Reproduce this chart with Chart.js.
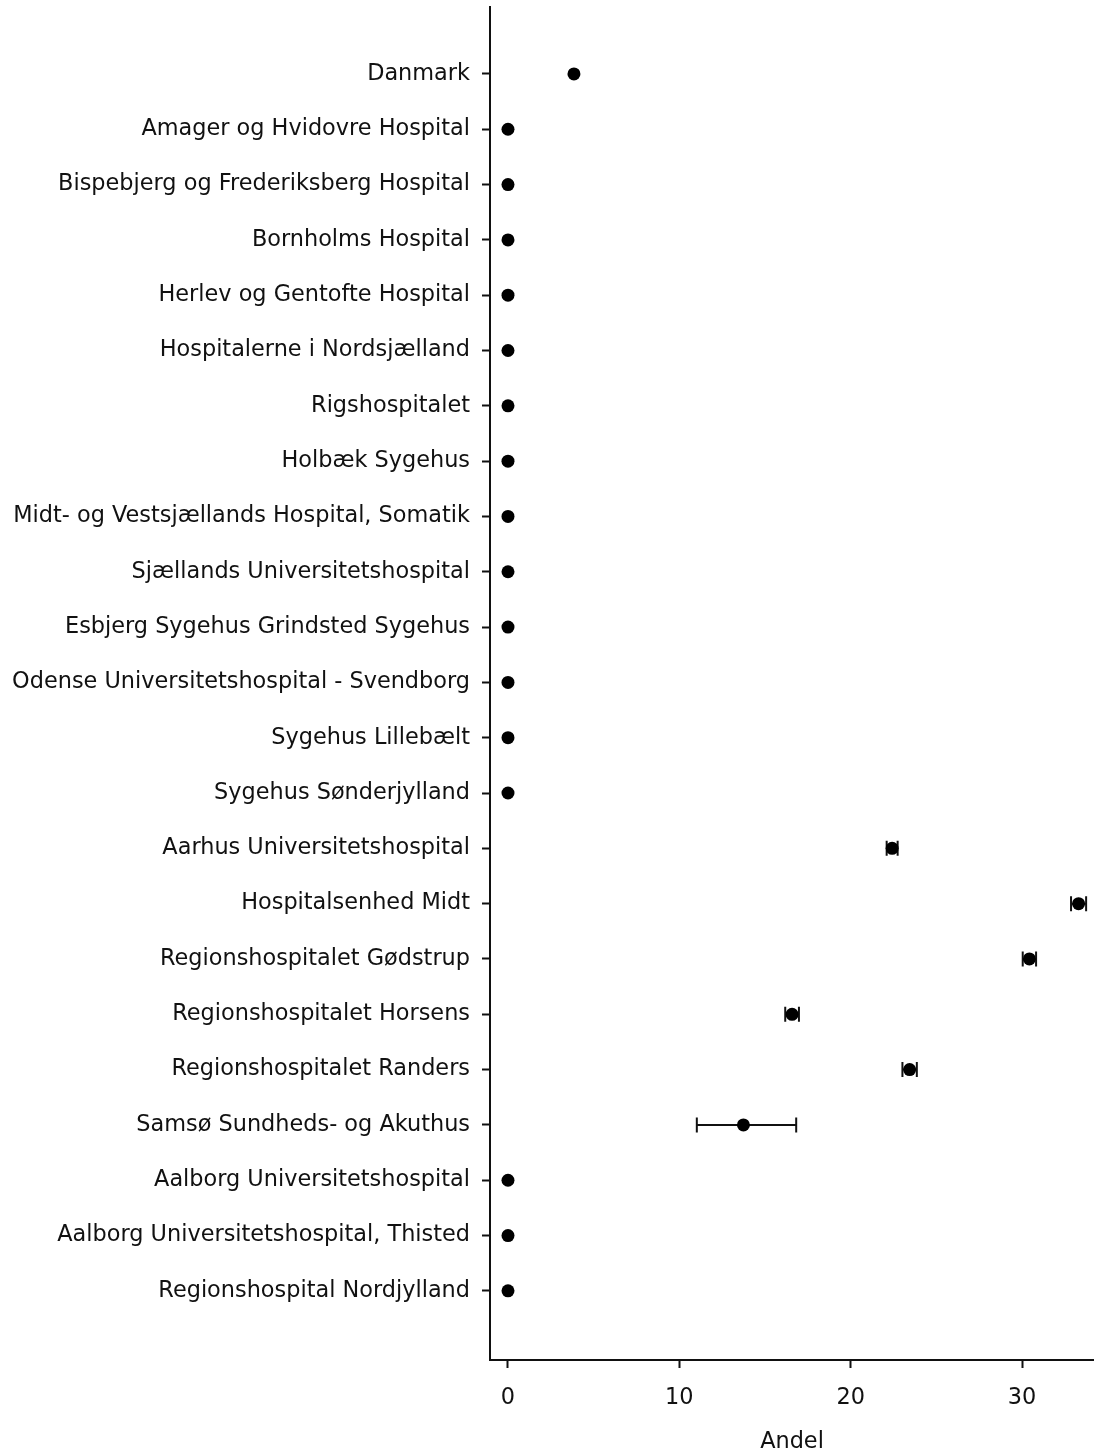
<!DOCTYPE html>
<html>
<head>
<meta charset="utf-8">
<script src="https://cdn.jsdelivr.net/npm/chart.js@4"></script>
<style>
    html, body { margin: 0; padding: 0; background: #fff; overflow: hidden; }
    canvas { display: block; }
</style>
</head>
<body>
<canvas id="andelChart" width="1094" height="1453"></canvas>
<script>
// Data
const categories = [
    'Danmark',
    'Amager og Hvidovre Hospital',
    'Bispebjerg og Frederiksberg Hospital',
    'Bornholms Hospital',
    'Herlev og Gentofte Hospital',
    'Hospitalerne i Nordsjælland',
    'Rigshospitalet',
    'Holbæk Sygehus',
    'Midt- og Vestsjællands Hospital, Somatik',
    'Sjællands Universitetshospital',
    'Esbjerg Sygehus Grindsted Sygehus',
    'Odense Universitetshospital - Svendborg',
    'Sygehus Lillebælt',
    'Sygehus Sønderjylland',
    'Aarhus Universitetshospital',
    'Hospitalsenhed Midt',
    'Regionshospitalet Gødstrup',
    'Regionshospitalet Horsens',
    'Regionshospitalet Randers',
    'Samsø Sundheds- og Akuthus',
    'Aalborg Universitetshospital',
    'Aalborg Universitetshospital, Thisted',
    'Regionshospital Nordjylland'
];

const andel = [3.85, 0, 0, 0, 0, 0, 0, 0, 0, 0, 0, 0, 0, 0, 22.42, 33.30, 30.43, 16.58, 23.44, 13.74, 0, 0, 0];
const errLow = [null, null, null, null, null, null, null, null, null, null, null, null, null, null, 22.10, 32.86, 30.04, 16.18, 23.02, 11.02, null, null, null];
const errHigh = [null, null, null, null, null, null, null, null, null, null, null, null, null, null, 22.74, 33.74, 30.82, 16.98, 23.86, 16.82, null, null, null];

const xTicks = [0, 10, 20, 30];

const FONT = "'DejaVu Sans', sans-serif";
const INK = '#111';

// Error bars drawn under the points
const errorBarPlugin = {
    id: 'errorBars',
    beforeDatasetsDraw(chart) {
        const ctx = chart.ctx;
        const xs = chart.scales.x;
        const ys = chart.scales.y;
        ctx.save();
        ctx.strokeStyle = INK;
        ctx.lineWidth = 2;
        categories.forEach((c, i) => {
            if (errLow[i] == null) return;
            const y = ys.getPixelForValue(i);
            const x1 = xs.getPixelForValue(errLow[i]);
            const x2 = xs.getPixelForValue(errHigh[i]);
            ctx.beginPath();
            ctx.moveTo(x1, y);
            ctx.lineTo(x2, y);
            ctx.moveTo(x1, y - 7.5);
            ctx.lineTo(x1, y + 7.5);
            ctx.moveTo(x2, y - 7.5);
            ctx.lineTo(x2, y + 7.5);
            ctx.stroke();
        });
        ctx.restore();
    }
};

// no edge padding for tick labels, the chart area is set by hand
const noEdgePadding = (scale) => {
    scale.paddingTop = 0;
    scale.paddingBottom = 0;
    scale.paddingLeft = 0;
    scale.paddingRight = 0;
};

const ctx = document.getElementById('andelChart').getContext('2d');
new Chart(ctx, {
    type: 'scatter',
    data: {
        datasets: [{
            data: andel.map((v, i) => ({ x: v, y: i })),
            backgroundColor: '#000',
            borderColor: '#000',
            pointRadius: 6.5,
            pointHoverRadius: 6.5,
            borderWidth: 0
        }]
    },
    options: {
        responsive: false,
        devicePixelRatio: 1,
        animation: false,
        layout: { autoPadding: false, padding: { top: 7, right: 0, left: 0, bottom: 0 } },
        plugins: {
            legend: { display: false },
            tooltip: { enabled: false }
        },
        scales: {
            x: {
                type: 'linear',
                min: -1.05,
                max: 34.2,
                afterBuildTicks: (scale) => { scale.ticks = xTicks.map(v => ({ value: v })); },
                afterFit: (scale) => { scale.height = 93; noEdgePadding(scale); },
                grid: { display: true, drawOnChartArea: false, drawTicks: true, tickLength: 8, tickWidth: 2, tickColor: INK },
                border: { display: true, color: INK, width: 2 },
                ticks: { color: INK, font: { family: FONT, size: 22.4 }, padding: 17, maxRotation: 0 },
                title: { display: true, text: 'Andel', color: INK, font: { family: FONT, size: 22.4, lineHeight: 1.0 }, padding: { top: 0, bottom: 0 } }
            },
            y: {
                type: 'linear',
                reverse: true,
                min: -1.21,
                max: 23.25,
                afterBuildTicks: (scale) => { scale.ticks = categories.map((c, i) => ({ value: i })); },
                afterFit: (scale) => { scale.width = 490; noEdgePadding(scale); },
                grid: { display: true, drawOnChartArea: false, drawTicks: true, tickLength: 8, tickWidth: 2, tickColor: INK },
                border: { display: true, color: INK, width: 2 },
                ticks: {
                    color: INK,
                    font: { family: FONT, size: 22.4 },
                    padding: 12,
                    autoSkip: false,
                    callback: (v) => categories[v]
                }
            }
        }
    },
    plugins: [errorBarPlugin]
});
</script>
</body>
</html>
